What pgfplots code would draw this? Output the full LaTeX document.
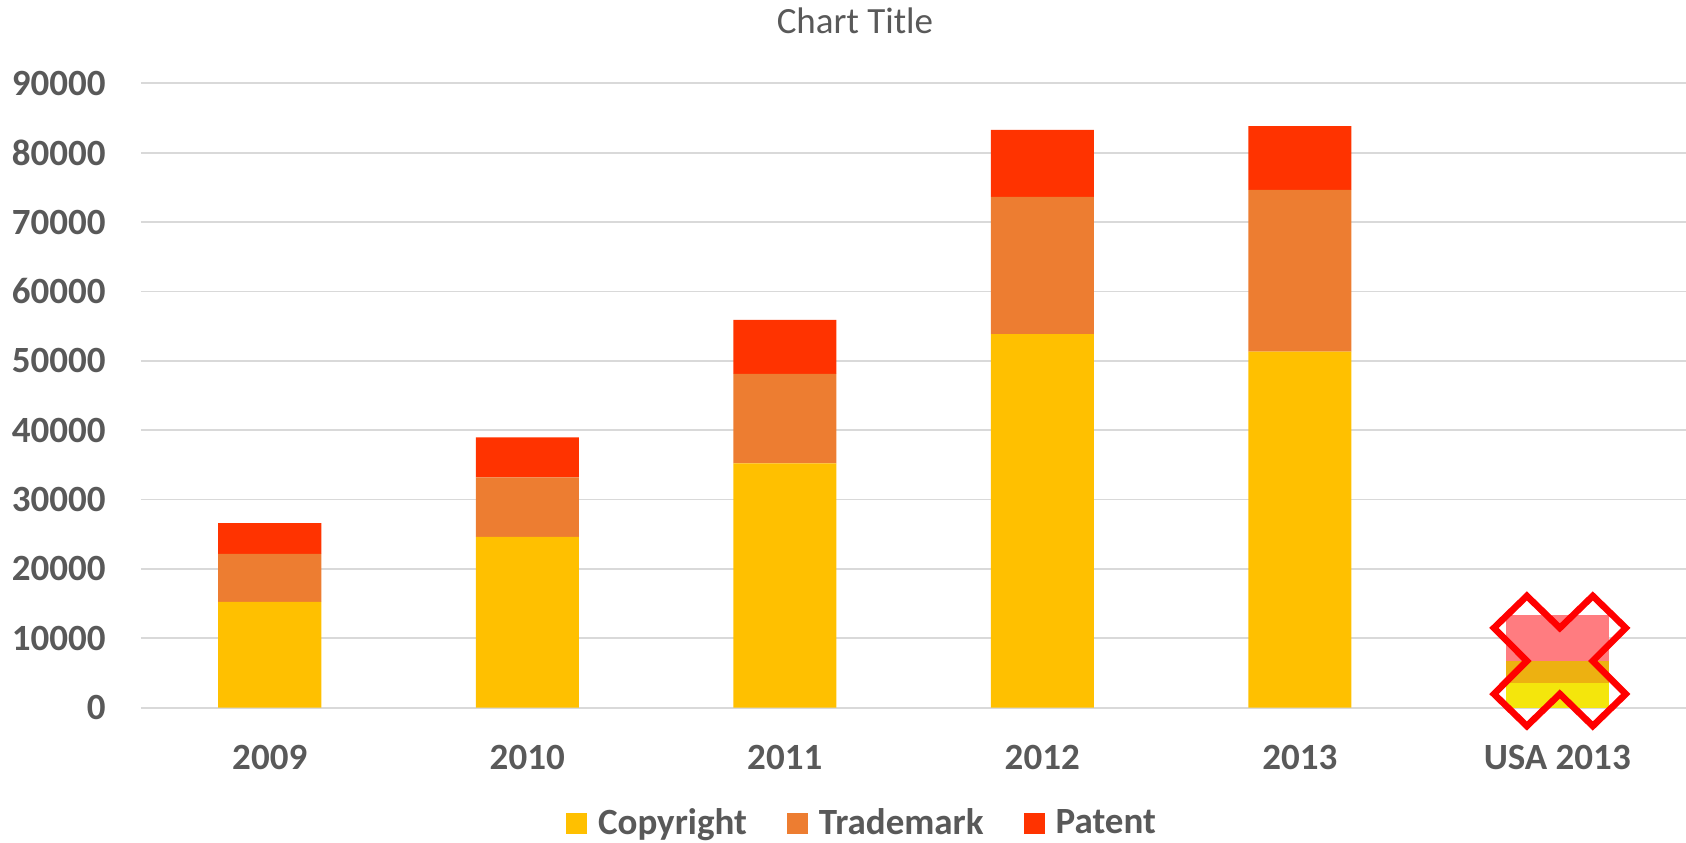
\documentclass[border=0pt]{standalone}
\usepackage{fontspec}
\setmainfont{Carlito}
\usepackage{pgfplots}
\pgfplotsset{compat=1.18}
\definecolor{cCopy}{HTML}{FFC000}
\definecolor{cTrade}{HTML}{ED7D31}
\definecolor{cPat}{HTML}{FF3300}
\definecolor{uCopy}{HTML}{F4E60C}
\definecolor{uTrade}{HTML}{EDB111}
\definecolor{uPat}{HTML}{FF7C80}
\definecolor{txt}{HTML}{595959}
\definecolor{gridc}{HTML}{D9D9D9}
\begin{document}
\begin{tikzpicture}
\path[use as bounding box] (-70.5pt,-67.15pt) rectangle (772.5pt,353.85pt);
\begin{axis}[
  at={(0,0)}, anchor=south west,
  scale only axis, width=772.5pt, height=312.2pt,
  xmin=-0.5, xmax=5.5, ymin=0, ymax=90000,
  ybar stacked, bar width=0.4,
  xtick={0,...,5}, xticklabels={2009,2010,2011,2012,2013,USA 2013},
  ytick={0,10000,...,90000},
  scaled y ticks=false,
  /pgf/number format/1000 sep={},
  /pgf/number format/assume math mode=true,
  tick label style={font=\fontsize{18.5}{22}\selectfont\bfseries, text=txt, inner sep=0pt},
  yticklabel style={anchor=east, xshift=-17.5pt},
  xticklabel style={anchor=base, yshift=-30.65pt},
  major tick length=0pt,
  axis line style={draw=none},
  ymajorgrids, grid style={gridc, line width=0.9pt},
  title={Chart Title},
  title style={at={(axis description cs:0.4621,1.0609)}, anchor=base, inner sep=0pt,
    font=\fontsize{18.5}{22}\selectfont, text=txt},
  legend entries={Copyright,Trademark,Patent},
  legend columns=3,
  legend image code/.code={\fill[#1] (0pt,-5.25pt) rectangle (10.5pt,5.25pt);},
  legend style={draw=none, fill=none, at={(axis description cs:0.466,-0.1848)}, anchor=center,
    font=\fontsize{18.5}{22}\selectfont\bfseries, text=txt,
    nodes={inner sep=0pt},
    /tikz/every odd column/.append style={column sep=5.5pt},
    /tikz/every even column/.append style={column sep=20pt}},
  legend cell align=left,
]
\addplot[fill=cCopy, draw=none] coordinates {(0,15240) (1,24610) (2,35210) (3,53840) (4,51330) (5,0)};
\addplot[fill=cTrade, draw=none] coordinates {(0,6920) (1,8600) (2,12910) (3,19800) (4,23320) (5,0)};
\addplot[fill=cPat, draw=none] coordinates {(0,4430) (1,5740) (2,7780) (3,9650) (4,9180) (5,0)};
\addplot[fill=uCopy, draw=none] coordinates {(0,0) (1,0) (2,0) (3,0) (4,0) (5,3610)};
\addplot[fill=uTrade, draw=none] coordinates {(0,0) (1,0) (2,0) (3,0) (4,0) (5,3170)};
\addplot[fill=uPat, draw=none] coordinates {(0,0) (1,0) (2,0) (3,0) (4,0) (5,6590)};
\end{axis}
\begin{axis}[
  at={(0,0)}, anchor=south west,
  scale only axis, width=772.5pt, height=312.2pt,
  xmin=-0.5, xmax=5.5, ymin=0, ymax=90000,
  hide axis, clip=false]
\addplot[draw=red, line width=3.3pt, line join=miter, mark=none, sharp plot] coordinates {
(4.882,16107) (5.01,11492) (5.138,16107) (5.266,11492) (5.138,6734) (5.266,1976)
(5.138,-2639) (5.01,1976) (4.882,-2639) (4.754,1976) (4.882,6734) (4.754,11492)} -- cycle;
\end{axis}
\end{tikzpicture}
\end{document}
